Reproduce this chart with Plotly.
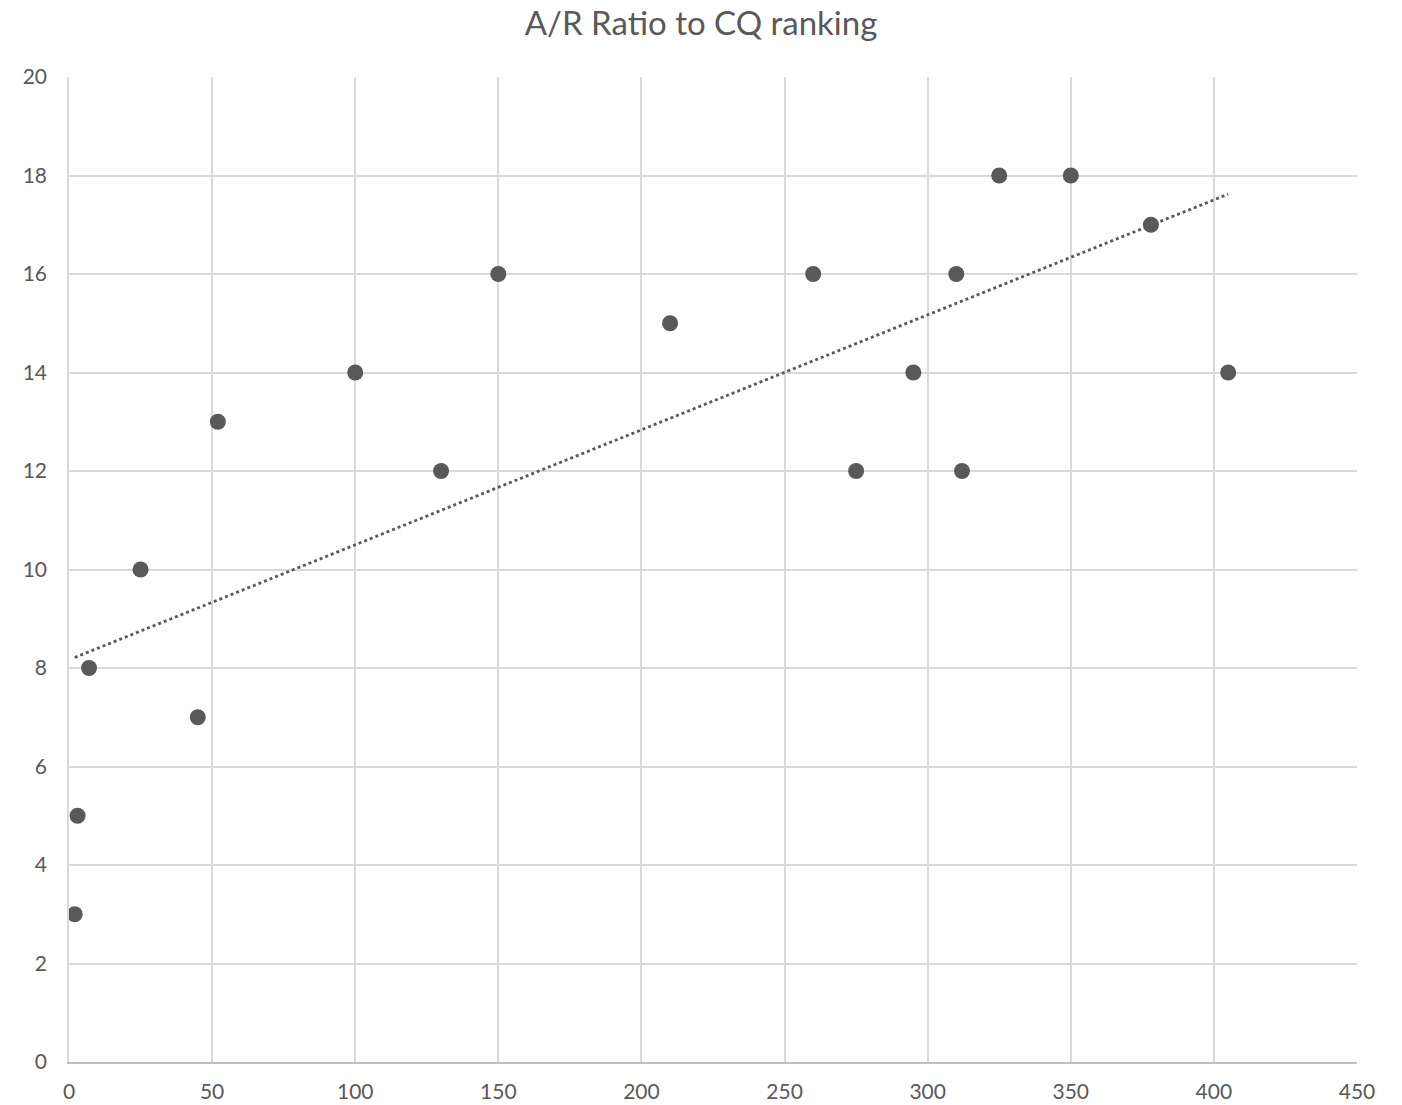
import numpy as np
import plotly.graph_objects as go

# CQ ranking vs A/R ratio
cq_ranking = [2, 3, 7, 25, 45, 52, 100, 130, 150, 210, 260, 275, 295, 310, 312, 325, 350, 378, 405]
ar_ratio = [3, 5, 8, 10, 7, 13, 14, 12, 16, 15, 16, 12, 14, 16, 12, 18, 18, 17, 14]

x_ticks = [0, 50, 100, 150, 200, 250, 300, 350, 400, 450]
y_ticks = [0, 2, 4, 6, 8, 10, 12, 14, 16, 18, 20]

# Least-squares linear trendline over the data range
slope, intercept = np.polyfit(cq_ranking, ar_ratio, 1)
trend_x = [min(cq_ranking), max(cq_ranking)]
trend_y = [slope * v + intercept for v in trend_x]

font_family = "Lato, 'Open Sans', 'Liberation Sans', sans-serif"
ink = "#595959"

fig = go.Figure()
fig.add_trace(go.Scatter(
    x=trend_x, y=trend_y, mode="lines",
    line=dict(color=ink, width=2.8, dash="dot"),
    hoverinfo="skip", showlegend=False,
))
fig.add_trace(go.Scatter(
    x=cq_ranking, y=ar_ratio, mode="markers",
    marker=dict(color=ink, size=16, line=dict(width=0)),
    showlegend=False,
))

fig.update_layout(
    width=1402, height=1105,
    margin=dict(l=69, r=45, t=77, b=43),
    paper_bgcolor="white", plot_bgcolor="white",
    font=dict(family=font_family, color=ink, size=21),
    title=dict(text="A/R Ratio to CQ ranking", x=0.5, xanchor="center",
               y=0.979, yanchor="middle", font=dict(size=33, color=ink)),
)
fig.update_xaxes(
    range=[0, 450], tickvals=x_ticks, showgrid=True, gridcolor="#d9d9d9", gridwidth=1.5,
    zeroline=False, showline=True, linecolor="#bfbfbf", linewidth=1.5, ticks="",
    ticklabelstandoff=10, automargin=False,
)
fig.update_yaxes(
    range=[0, 20], tickvals=y_ticks, showgrid=True, gridcolor="#d9d9d9", gridwidth=1.5,
    zeroline=False, showline=True, linecolor="#d9d9d9", linewidth=1.5, ticks="",
    ticklabelstandoff=16, automargin=False,
)

fig.write_html("out.html")
